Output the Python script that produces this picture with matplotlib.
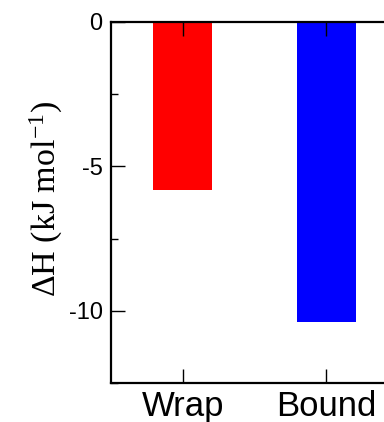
import matplotlib
matplotlib.use("Agg")
import matplotlib.pyplot as plt
from matplotlib.ticker import MultipleLocator

categories = ["Wrap", "Bound"]
delta_h = [-5.8, -10.4]
bar_colors = ["#ff0000", "#0000ff"]
y_ticks = [0, -5, -10]

plt.rcParams["mathtext.fontset"] = "custom"
plt.rcParams["mathtext.rm"] = "Liberation Serif"
plt.rcParams["mathtext.it"] = "Liberation Serif:italic"

fig = plt.figure(figsize=(3.84, 4.22), dpi=100)
ax = fig.add_axes([111 / 384, 1 - 383 / 422, 287 / 384, 361 / 422])

xpos = [1, 2]
ax.bar(xpos, delta_h, width=0.41, color=bar_colors, edgecolor="none", zorder=1)

ax.set_xlim(0.5, 2.5)
ax.set_ylim(-12.5, 0)
ax.set_xticks(xpos)
ax.set_xticklabels(categories, fontfamily="Liberation Sans", fontsize=25)
ax.set_yticks(y_ticks)
ax.set_yticklabels([str(v) for v in y_ticks], fontfamily="Liberation Sans", fontsize=17)
ax.yaxis.set_minor_locator(MultipleLocator(2.5))

for s in ax.spines.values():
    s.set_linewidth(1.6)
    s.set_zorder(3)

ax.tick_params(axis="both", which="major", direction="in", length=10, width=1.0,
               top=True, right=True)
ax.tick_params(axis="y", which="major", pad=6)
ax.tick_params(axis="x", which="major", pad=5)
ax.tick_params(axis="y", which="minor", direction="in", length=5, width=1.0, right=True)

fig.text(46 / 384, 1 - 199 / 422, r"ΔH (kJ mol$^{-1}$)", rotation=90,
         ha="center", va="center", fontfamily="Liberation Serif", fontsize=24.5)

fig.savefig("out.png", dpi=100)
